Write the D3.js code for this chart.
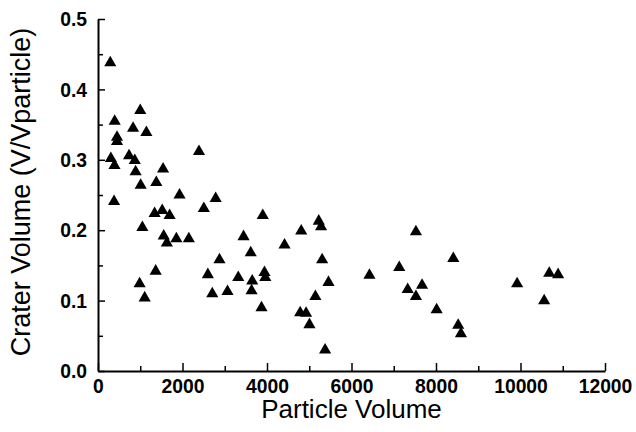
<!DOCTYPE html>
<html>
<head>
<meta charset="utf-8">
<script src="https://cdn.jsdelivr.net/npm/d3@7"></script>
<style>
  body { margin: 0; background: #fff; }
  svg { display: block; }
  .tickLabel { font-family: "Liberation Sans", Arial, sans-serif; font-weight: bold; font-size: 21px; fill: #000; }
  .axisTitle { font-family: "Liberation Sans", Arial, sans-serif; font-size: 26px; fill: #000; }
</style>
</head>
<body>
<div id="chart"></div>
<script>
// Chart Params
const svgWidth = 636;
const svgHeight = 432;
const margin = { top: 19, right: 31, bottom: 61, left: 98 };
const width = svgWidth - margin.left - margin.right;
const height = svgHeight - margin.top - margin.bottom;

// data
const particleVolume = [290, 1000, 395, 830, 1145, 450, 450, 2390, 305, 735, 870, 390, 890, 1540, 1010, 1380,
  380, 1930, 2785, 2505, 1340, 1520, 1695, 3900, 1050, 1555, 1630, 1855, 2150, 3445, 3615, 4415,
  2875, 1365, 2600, 3320, 3650, 3940, 3960, 985, 1105, 2705, 3065, 3635, 3870,
  5225, 5280, 4810, 7525, 5305, 8410, 5455, 6425, 7130, 7330, 7670, 7525, 8015, 8525, 8590,
  5145, 4785, 4925, 5005, 5375, 9920, 10680, 10890, 10560];
const craterVolume = [0.440, 0.372, 0.357, 0.347, 0.341, 0.334, 0.328, 0.314, 0.304, 0.308, 0.301, 0.294, 0.285, 0.289, 0.266, 0.270,
  0.243, 0.252, 0.247, 0.233, 0.226, 0.230, 0.223, 0.223, 0.206, 0.194, 0.184, 0.190, 0.190, 0.193, 0.170, 0.181,
  0.160, 0.144, 0.139, 0.135, 0.130, 0.142, 0.135, 0.126, 0.106, 0.112, 0.115, 0.116, 0.092,
  0.215, 0.207, 0.201, 0.200, 0.160, 0.162, 0.128, 0.138, 0.149, 0.118, 0.124, 0.108, 0.089, 0.067, 0.055,
  0.108, 0.085, 0.084, 0.068, 0.032, 0.126, 0.141, 0.139, 0.102];

const xTicks = [0, 2000, 4000, 6000, 8000, 10000, 12000];
const xMinorTicks = [1000, 3000, 5000, 7000, 9000, 11000];
const yTicks = [0.0, 0.1, 0.2, 0.3, 0.4, 0.5];
const yMinorTicks = [0.05, 0.15, 0.25, 0.35, 0.45];

const points = particleVolume.map((v, i) => ({ x: v, y: craterVolume[i] }));

const svg = d3.select("#chart")
  .append("svg")
  .attr("width", svgWidth)
  .attr("height", svgHeight);

const chartGroup = svg.append("g")
  .attr("transform", `translate(${margin.left}, ${margin.top})`);

// scales
const xLinearScale = d3.scaleLinear().domain([0, 12000]).range([0, width]);
const yLinearScale = d3.scaleLinear().domain([0, 0.5]).range([height, 0]);

// x axis, ticks pointing up into the plot
const bottomAxis = d3.axisBottom(xLinearScale)
  .tickValues(xTicks)
  .tickSize(-8)
  .tickSizeOuter(0)
  .tickPadding(7)
  .tickFormat(d3.format("d"));

const xAxis = chartGroup.append("g")
  .attr("transform", `translate(0, ${height})`)
  .call(bottomAxis);

chartGroup.append("g")
  .attr("transform", `translate(0, ${height})`)
  .call(d3.axisBottom(xLinearScale).tickValues(xMinorTicks).tickSize(-5).tickSizeOuter(0).tickFormat(""))
  .call(g => g.select(".domain").remove())
  .selectAll("line").attr("stroke-width", 1.5);

// y axis, ticks pointing right into the plot
const leftAxis = d3.axisLeft(yLinearScale)
  .tickValues(yTicks)
  .tickSize(-7)
  .tickSizeOuter(0)
  .tickPadding(11)
  .tickFormat(d3.format(".1f"));

const yAxis = chartGroup.append("g")
  .call(leftAxis);

chartGroup.append("g")
  .call(d3.axisLeft(yLinearScale).tickValues(yMinorTicks).tickSize(-5).tickSizeOuter(0).tickFormat(""))
  .call(g => g.select(".domain").remove())
  .selectAll("line").attr("stroke-width", 1.5);

[xAxis, yAxis].forEach(ax => {
  ax.select(".domain").attr("stroke", "#000").attr("stroke-width", 2);
  ax.selectAll(".tick line").attr("stroke", "#000").attr("stroke-width", 1.5);
  ax.selectAll(".tick text")
    .attr("class", "tickLabel")
    .attr("font-family", null)
    .attr("font-size", null)
    .each(function() {
      // the reference digits are a bit narrower than Arial bold
      const len = this.getComputedTextLength();
      d3.select(this).attr("textLength", len * 0.92).attr("lengthAdjust", "spacingAndGlyphs");
    });
});

// triangles
chartGroup.selectAll(".pt")
  .data(points)
  .enter()
  .append("path")
  .attr("class", "pt")
  .attr("d", d3.symbol().type(d3.symbolTriangle).size(64))
  .attr("transform", d => `translate(${xLinearScale(d.x)}, ${yLinearScale(d.y) + 1.5})`)
  .attr("fill", "#000");

// axis titles
chartGroup.append("text")
  .attr("class", "axisTitle")
  .attr("x", width / 2)
  .attr("y", height + 47)
  .attr("text-anchor", "middle")
  .text("Particle Volume");

chartGroup.append("text")
  .attr("class", "axisTitle")
  .style("font-size", "27px")
  .attr("transform", `translate(${-margin.left + 30}, ${height / 2 - 3}) rotate(-90)`)
  .attr("text-anchor", "middle")
  .text("Crater Volume (V/Vparticle)");
</script>
</body>
</html>
